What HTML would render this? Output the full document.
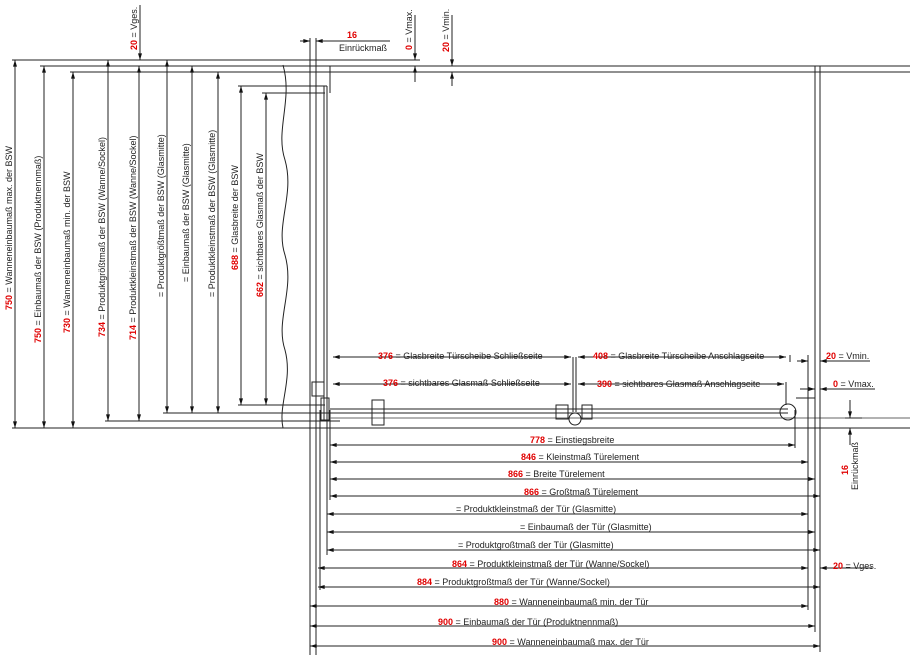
<!DOCTYPE html>
<html><head><meta charset="utf-8"><style>
html,body{margin:0;padding:0;background:#fff;width:910px;height:665px;overflow:hidden}
svg{display:block}
text{font-family:"Liberation Sans",sans-serif;font-size:9px;fill:#222}
.r{fill:#e00000;font-weight:bold}
</style></head><body>
<svg width="910" height="665" viewBox="0 0 910 665" xmlns="http://www.w3.org/2000/svg">
<defs>
<marker id="a" viewBox="0 0 10 6" refX="10" refY="3" markerWidth="8" markerHeight="4" orient="auto-start-reverse" markerUnits="userSpaceOnUse"><path d="M0,0L10,3L0,6z" fill="#111"/></marker>
</defs>
<g stroke="#222" stroke-width="1" fill="none">
<!-- top horizontal lines -->
<line x1="12" y1="60" x2="420" y2="60"/>
<line x1="40" y1="66" x2="910" y2="66"/>
<line x1="70" y1="72" x2="910" y2="72"/>
<line x1="325" y1="60" x2="420" y2="60"/>
<!-- bottom horizontal lines left -->
<line x1="12" y1="428" x2="910" y2="428"/>
<line x1="105" y1="421" x2="340" y2="421"/>
<line x1="163" y1="413" x2="330" y2="413"/>
<line x1="238" y1="405" x2="325" y2="405"/>
<line x1="238" y1="86" x2="327" y2="86"/>
<line x1="262" y1="93" x2="325" y2="93"/>
<!-- vertical dims -->
<g marker-start="url(#a)" marker-end="url(#a)">
<line x1="15" y1="60" x2="15" y2="428"/>
<line x1="44" y1="66" x2="44" y2="428"/>
<line x1="73" y1="72" x2="73" y2="428"/>
<line x1="108" y1="60" x2="108" y2="421"/>
<line x1="139" y1="66" x2="139" y2="421"/>
<line x1="167" y1="60" x2="167" y2="413"/>
<line x1="192" y1="66" x2="192" y2="413"/>
<line x1="218" y1="72" x2="218" y2="413"/>
<line x1="241" y1="86" x2="241" y2="405"/>
<line x1="266" y1="93" x2="266" y2="405"/>
</g>
<!-- wavy break line -->
<path d="M283,65 C293,100 275,130 285,160 C295,195 275,225 285,255 C295,290 275,320 285,350 C293,380 278,405 283,428"/>
<!-- main verticals -->
<line x1="310" y1="38" x2="310" y2="655"/>
<line x1="316" y1="38" x2="316" y2="655"/>
<line x1="320" y1="410" x2="320" y2="590"/>
<line x1="324" y1="86" x2="324" y2="420"/>
<line x1="327" y1="86" x2="327" y2="555"/>
<line x1="330" y1="66" x2="330" y2="93"/>
<line x1="330" y1="410" x2="330" y2="500"/>
<rect x="312" y="382" width="12" height="14"/>
<rect x="321" y="398" width="8" height="22"/>
<!-- door track -->
<line x1="330" y1="409" x2="788" y2="409"/>
<line x1="330" y1="413" x2="788" y2="413"/>
<line x1="330" y1="418" x2="910" y2="418" stroke="#666"/>
<rect x="372" y="400" width="12" height="25"/>
<rect x="556" y="405" width="12" height="14"/>
<rect x="582" y="405" width="10" height="14"/>
<circle cx="575" cy="419" r="6"/>
<line x1="573" y1="357" x2="573" y2="412"/>
<line x1="576" y1="357" x2="576" y2="412"/>
<circle cx="788" cy="412" r="8"/>
<line x1="786" y1="382" x2="786" y2="405"/>
<line x1="796" y1="398" x2="815" y2="398"/>
<!-- right verticals -->
<line x1="795" y1="410" x2="795" y2="448"/>
<line x1="808" y1="355" x2="808" y2="610"/>
<line x1="815" y1="66" x2="815" y2="632"/>
<line x1="820" y1="66" x2="820" y2="652"/>
<line x1="790" y1="355" x2="790" y2="362"/>
<!-- horizontal dims bottom -->
<g marker-start="url(#a)" marker-end="url(#a)">
<line x1="333" y1="357" x2="571" y2="357"/>
<line x1="578" y1="357" x2="786" y2="357"/>
<line x1="333" y1="384" x2="571" y2="384"/>
<line x1="578" y1="384" x2="784" y2="384"/>
<line x1="330" y1="445" x2="795" y2="445"/>
<line x1="330" y1="462" x2="808" y2="462"/>
<line x1="330" y1="479" x2="815" y2="479"/>
<line x1="330" y1="496" x2="820" y2="496"/>
<line x1="327" y1="514" x2="808" y2="514"/>
<line x1="327" y1="532" x2="815" y2="532"/>
<line x1="327" y1="550" x2="820" y2="550"/>
<line x1="318" y1="568" x2="808" y2="568"/>
<line x1="318" y1="587" x2="820" y2="587"/>
<line x1="310" y1="606" x2="808" y2="606"/>
<line x1="310" y1="626" x2="815" y2="626"/>
<line x1="310" y1="646" x2="820" y2="646"/>
</g>
<!-- small outside arrows -->
<g marker-end="url(#a)">
<line x1="797" y1="361" x2="808" y2="361"/>
<line x1="840" y1="361" x2="820" y2="361"/>
<line x1="800" y1="389" x2="815" y2="389"/>
<line x1="840" y1="389" x2="820" y2="389"/>
<line x1="850" y1="400" x2="850" y2="418"/>
<line x1="850" y1="445" x2="850" y2="428"/>
<line x1="830" y1="568" x2="820" y2="568"/>
<line x1="300" y1="41" x2="310" y2="41"/>
<line x1="326" y1="41" x2="316" y2="41"/>
<line x1="140" y1="5" x2="140" y2="60"/>
<line x1="415" y1="15" x2="415" y2="60"/>
<line x1="415" y1="82" x2="415" y2="66"/>
<line x1="452" y1="15" x2="452" y2="66"/>
<line x1="452" y1="86" x2="452" y2="72"/>
</g>
<line x1="840" y1="361" x2="870" y2="361"/>
<line x1="840" y1="389" x2="875" y2="389"/>
<line x1="830" y1="568" x2="872" y2="568"/>
<line x1="326" y1="41" x2="390" y2="41"/>
<line x1="845" y1="418" x2="862" y2="418"/>
<line x1="845" y1="428" x2="862" y2="428"/>
</g>
<!-- top labels -->
<text x="352" y="38" class="r" text-anchor="middle">16</text>
<text x="363" y="51" text-anchor="middle">Einrückmaß</text>
<g transform="translate(137,50) rotate(-90)"><text><tspan class="r">20</tspan> = Vges.</text></g>
<g transform="translate(412,50) rotate(-90)"><text><tspan class="r">0</tspan> = Vmax.</text></g>
<g transform="translate(449,52) rotate(-90)"><text><tspan class="r">20</tspan> = Vmin.</text></g>
<!-- vertical labels -->
<g transform="translate(12,310) rotate(-90)"><text><tspan class="r">750</tspan>  = Wanneneinbaumaß max. der BSW</text></g>
<g transform="translate(41,343) rotate(-90)"><text><tspan class="r">750</tspan>  = Einbaumaß der BSW (Produktnennmaß)</text></g>
<g transform="translate(70,333) rotate(-90)"><text><tspan class="r">730</tspan>  = Wanneneinbaumaß min. der BSW</text></g>
<g transform="translate(105,337) rotate(-90)"><text><tspan class="r">734</tspan>  = Produktgrößtmaß der BSW (Wanne/Sockel)</text></g>
<g transform="translate(136,340) rotate(-90)"><text><tspan class="r">714</tspan>  = Produktkleinstmaß der BSW (Wanne/Sockel)</text></g>
<g transform="translate(164,297) rotate(-90)"><text>= Produktgrößtmaß der BSW (Glasmitte)</text></g>
<g transform="translate(189,282) rotate(-90)"><text>= Einbaumaß der BSW (Glasmitte)</text></g>
<g transform="translate(215,297) rotate(-90)"><text>= Produktkleinstmaß der BSW (Glasmitte)</text></g>
<g transform="translate(238,270) rotate(-90)"><text><tspan class="r">688</tspan>  = Glasbreite der BSW</text></g>
<g transform="translate(263,297) rotate(-90)"><text><tspan class="r">662</tspan>  = sichtbares Glasmaß der BSW</text></g>
<!-- horizontal labels -->
<text x="378" y="359"><tspan class="r">376</tspan>  = Glasbreite Türscheibe Schließseite</text>
<text x="593" y="359"><tspan class="r">408</tspan>  = Glasbreite Türscheibe Anschlagseite</text>
<text x="383" y="386"><tspan class="r">376</tspan>  = sichtbares Glasmaß Schließseite</text>
<text x="597" y="387"><tspan class="r">390</tspan>  = sichtbares Glasmaß Anschlagseite</text>
<text x="826" y="359"><tspan class="r">20</tspan> = Vmin.</text>
<text x="833" y="387"><tspan class="r">0</tspan>  = Vmax.</text>
<text x="833" y="569"><tspan class="r">20</tspan> = Vges.</text>
<g transform="translate(848,470) rotate(-90)"><text class="r" text-anchor="middle">16</text></g>
<g transform="translate(858,490) rotate(-90)"><text>Einrückmaß</text></g>
<text x="530" y="443"><tspan class="r">778</tspan>  = Einstiegsbreite</text>
<text x="521" y="460"><tspan class="r">846</tspan>  = Kleinstmaß Türelement</text>
<text x="508" y="477"><tspan class="r">866</tspan>  = Breite Türelement</text>
<text x="524" y="495"><tspan class="r">866</tspan>  = Großtmaß Türelement</text>
<text x="456" y="512">= Produktkleinstmaß der Tür (Glasmitte)</text>
<text x="520" y="530">= Einbaumaß der Tür (Glasmitte)</text>
<text x="458" y="548">= Produktgroßtmaß der Tür (Glasmitte)</text>
<text x="452" y="567"><tspan class="r">864</tspan>  = Produktkleinstmaß der Tür (Wanne/Sockel)</text>
<text x="417" y="585"><tspan class="r">884</tspan>  = Produktgroßtmaß der Tür (Wanne/Sockel)</text>
<text x="494" y="605"><tspan class="r">880</tspan>  = Wanneneinbaumaß min. der Tür</text>
<text x="438" y="625"><tspan class="r">900</tspan>  = Einbaumaß der Tür (Produktnennmaß)</text>
<text x="492" y="645"><tspan class="r">900</tspan>  = Wanneneinbaumaß max. der Tür</text>
</svg>
</body></html>
